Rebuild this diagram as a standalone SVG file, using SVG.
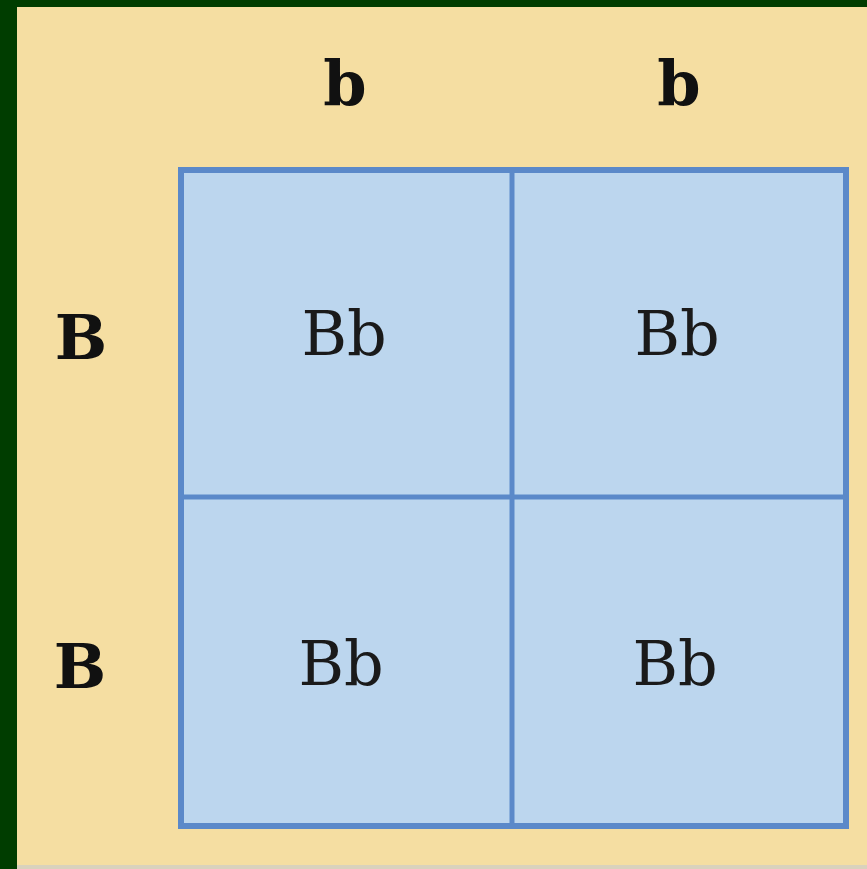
<svg xmlns="http://www.w3.org/2000/svg" width="867" height="869" viewBox="0 0 867 869">
  <style>
    .hdr { font-family: "DejaVu Serif", "Liberation Serif", serif; font-weight: bold; font-size: 62px; fill: #111; text-anchor: middle; }
    .cell { font-family: "DejaVu Serif", "Liberation Serif", serif; font-size: 62px; fill: #1a1a1a; text-anchor: middle; }
    .grid { fill: none; stroke: #5b89c9; }
    .box { fill: #bcd6ee; stroke: #5b89c9; stroke-width: 6; }
  </style>
  <rect x="0" y="0" width="867" height="869" fill="#f5dea2"/>
  <rect x="0" y="0" width="867" height="7" fill="#003d00"/>
  <rect x="0" y="0" width="17" height="869" fill="#003d00"/>
  <rect x="17" y="865" width="850" height="4" fill="#d9d2bd"/>

  <g id="square">
    <rect x="181" y="170" width="665" height="656" class="box"/>
  </g>
  <g id="connectors">
    <line x1="512" y1="170" x2="512" y2="826" class="grid" stroke-width="5"/>
    <line x1="181" y1="497" x2="846" y2="497" class="grid" stroke-width="5"/>
  </g>

  <g id="col1"><text x="345" y="105" class="hdr">b</text></g>
  <g id="col2"><text x="679" y="105" class="hdr">b</text></g>
  <g id="row1"><text x="81" y="359" class="hdr">B</text></g>
  <g id="row2"><text x="80" y="688" class="hdr">B</text></g>

  <g id="c11"><text x="344" y="355" class="cell">Bb</text></g>
  <g id="c12"><text x="677" y="355" class="cell">Bb</text></g>
  <g id="c21"><text x="341" y="685" class="cell">Bb</text></g>
  <g id="c22"><text x="675" y="685" class="cell">Bb</text></g>
</svg>
